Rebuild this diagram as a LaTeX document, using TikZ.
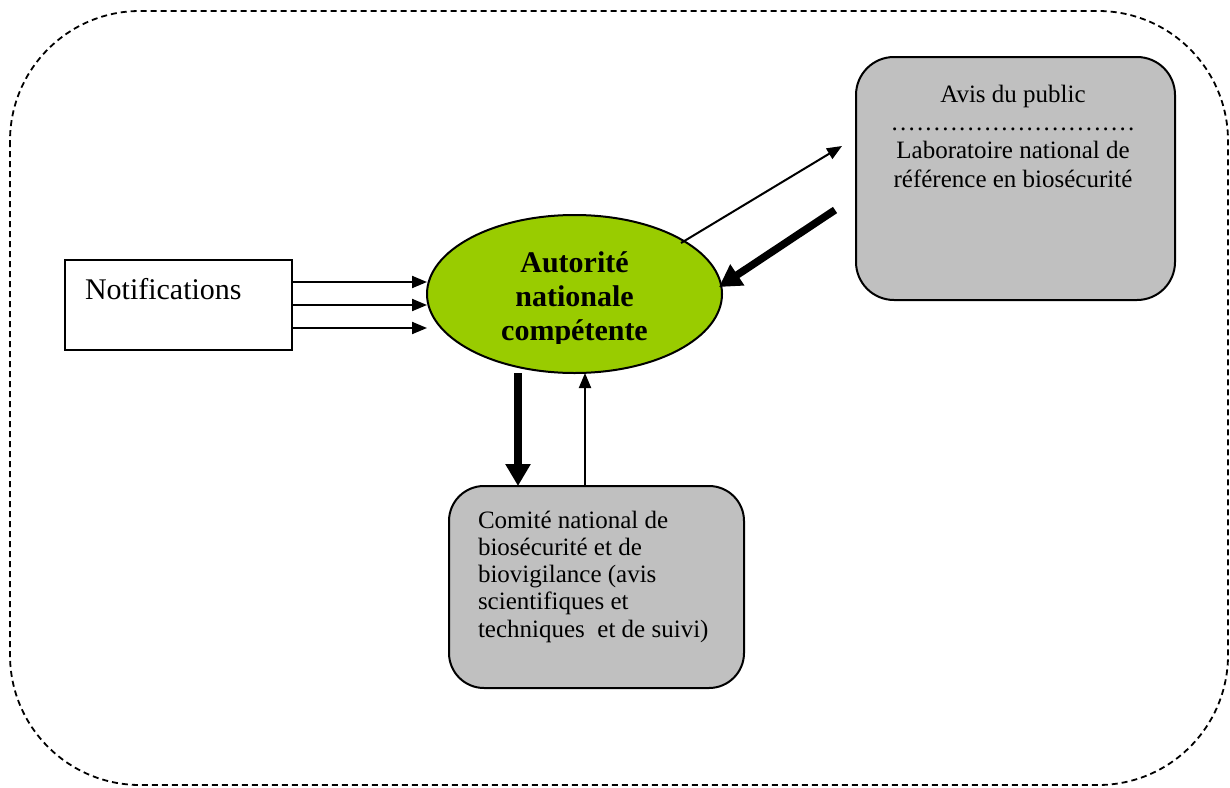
\documentclass[tikz,border=0pt]{standalone}
\usepackage{fontspec}
\setmainfont{Liberation Serif}
\usetikzlibrary{arrows.meta,calc,shapes.geometric}
\definecolor{anagreen}{RGB}{153,204,0}
\definecolor{boxgray}{RGB}{192,192,192}
\newcommand{\dotrow}{\hbox to 245pt{\xleaders\hbox to 8.17pt{\hss.\hss}\hfill}}
\begin{document}
\begin{tikzpicture}[x=1pt,y=-1pt,outer sep=0pt,
  thinarr/.style={line width=2pt,-{Triangle[length=15pt,width=12pt]}},
  thickarr/.style={line width=7.5pt,-{Triangle[length=22pt,width=24pt]}},
  grbox/.style={draw,line width=2pt,fill=boxgray,rounded corners=38pt,inner sep=0pt},
  txt/.style={font=\fontsize{25}{28.3}\selectfont,inner sep=0pt}]
\useasboundingbox (0,0) rectangle (1230,787);
% dashed frame
\draw[line width=1.8pt,dash pattern=on 6pt off 4pt,rounded corners=130pt] (10,11) rectangle (1228,785);
% nodes
\node[draw,line width=1.5pt,minimum width=227pt,minimum height=90pt,anchor=north west,inner sep=0pt] (notif) at (65,260) {};
\node[font=\fontsize{30}{33}\selectfont,inner sep=0pt,anchor=base west] (notiftxt) at (85,299) {Notifications};
\node[ellipse,draw,fill=anagreen,line width=2pt,minimum width=295pt,minimum height=158pt,inner sep=0pt] (ana) at (574.5,294) {};
\begin{scope}
  \clip (400,200) rectangle (750,343.5);
  \node[font=\bfseries\fontsize{30}{33.7}\selectfont,align=center,inner sep=0pt,anchor=base] (anatxt) at (574.5,340) {Autorité\\nationale\\compétente};
\end{scope}
\node[grbox,minimum width=319pt,minimum height=243pt,anchor=north west] (lab) at (856,57) {};
\node[txt,align=center,anchor=base] (labtxt) at (1013,187) {Avis du public\\\dotrow\\Laboratoire national de\\référence en biosécurité};
\node[grbox,rounded corners=35pt,minimum width=295pt,minimum height=202pt,anchor=north west] (comite) at (449,486) {};
\node[txt,font=\fontsize{25}{27.2}\selectfont,align=left,anchor=base west] (comitetxt) at (478,637) {Comité national de\\biosécurité et de\\biovigilance (avis\\scientifiques et\\techniques\ \ et de suivi)};
% connectors
\draw[thinarr] ($(notif.north east)+(0,22)$) -- ($(ana.west)+(0,-12)$);
\draw[thinarr] ($(notif.north east)+(0,45)$) -- ($(ana.west)+(0,11)$);
\draw[thinarr] ($(notif.north east)+(0,68)$) -- ($(ana.west)+(0,34)$);
\draw[thinarr] ($(ana.center)+(106.5,-51)$) -- ($(lab.west)+(-14,-32.5)$);
\draw[thickarr] ($(lab.west)+(-21,31.5)$) -- ($(ana.east)+(-3,-7)$);
\draw[thickarr] ($(ana.south)+(-56.5,0)$) -- ($(comite.north)+(-78.5,0)$);
\draw[thinarr] ($(comite.north)+(-11.5,0)$) -- ($(ana.south)+(10.5,0)$);
\end{tikzpicture}
\end{document}
